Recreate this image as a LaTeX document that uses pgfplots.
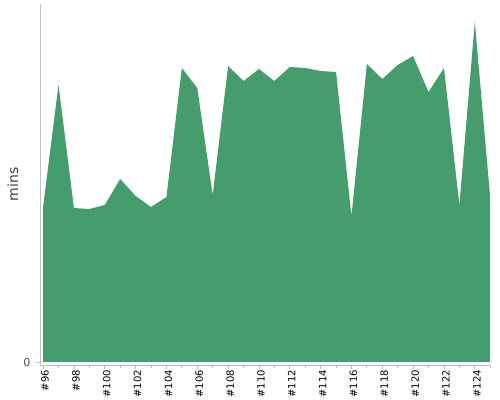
\documentclass[border=0pt]{standalone}
\usepackage{pgfplots}
\pgfplotsset{compat=1.18}
\usepackage{fontspec}
\setmainfont{DejaVu Sans}
\definecolor{areagreen}{RGB}{69,157,109}
\definecolor{axgray}{RGB}{192,192,192}
\begin{document}
\begin{tikzpicture}
\path[use as bounding box] (-40bp,-35bp) rectangle (460bp,365bp);
\begin{axis}[
  scale only axis,
  width=451bp, height=361bp,
  xmin=95.8, xmax=125.05,
  ymin=-3, ymax=358,
  axis x line*=bottom, axis y line*=left,
  axis line style={axgray, line width=0.8bp},
  /pgf/number format/assume math mode=true,
  xtick={96,98,...,124},
  minor xtick={97,99,...,125},
  xticklabels={\#96,\#98,\#100,\#102,\#104,\#106,\#108,\#110,\#112,\#114,\#116,\#118,\#120,\#122,\#124},
  xticklabel style={rotate=90, anchor=east, font=\fontsize{10bp}{11bp}\selectfont, text=black, inner sep=1bp, yshift=-2bp},
  ytick={0},
  yticklabel style={font=\fontsize{11bp}{12bp}\selectfont, text=black!70, xshift=-2bp},
  tick style={axgray, line width=0.8bp},
  tick align=outside,
  major tick length=4bp, minor tick length=3bp,
  ylabel={mins},
  every axis y label/.style={at={(axis description cs:-0.06,0.5)}, rotate=90, anchor=center, font=\fontsize{14bp}{16bp}\selectfont, text=black!75},
  clip=false,
]
\addplot[fill=areagreen, draw=none] coordinates {
(96,0) (96,155) (97,277) (98,154) (99,153) (100,157) (101,183) (102,166) (103,155) (104,165)
(105,294) (106,274) (107,167) (108,296) (109,281) (110,293) (111,281) (112,295) (113,294)
(114,291) (115,290) (116,146) (117,298) (118,283) (119,297) (120,306) (121,270) (122,294)
(123,157) (124,340) (125,164) (125,0)
} -- cycle;
\end{axis}
\end{tikzpicture}
\end{document}
